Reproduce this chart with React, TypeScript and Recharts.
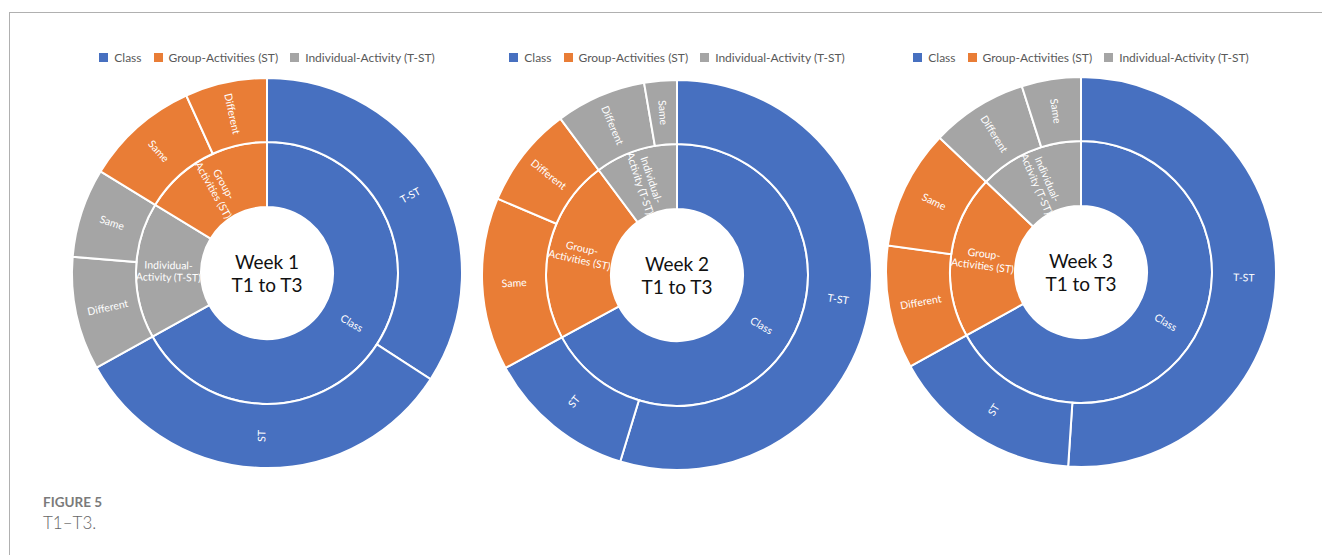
import React from 'react'
import { PieChart, Pie, Cell, Legend, Label } from 'recharts'

// legend categories (inner ring) and their colours
const categories = ['Class', 'Group-Activities (ST)', 'Individual-Activity (T-ST)']
const categoryColors: Record<string, string> = {
  Class: '#4770C0',
  'Group-Activities (ST)': '#E97D36',
  'Individual-Activity (T-ST)': '#A5A5A5',
}

// outer ring values (share of the full circle, %)
const week1Class = [{ name: 'T-ST', value: 34.2 }, { name: 'ST', value: 32.8 }]
const week1Individual = [{ name: 'Different', value: 9.4 }, { name: 'Same', value: 7.4 }]
const week1Group = [{ name: 'Same', value: 9.5 }, { name: 'Different', value: 6.8 }]

const week2Class = [{ name: 'T-ST', value: 54.7 }, { name: 'ST', value: 12.4 }]
const week2Group = [{ name: 'Same', value: 14.3 }, { name: 'Different', value: 8.4 }]
const week2Individual = [{ name: 'Different', value: 7.5 }, { name: 'Same', value: 2.7 }]

const week3Class = [{ name: 'T-ST', value: 51.0 }, { name: 'ST', value: 15.9 }]
const week3Group = [{ name: 'Different', value: 10.2 }, { name: 'Same', value: 9.9 }]
const week3Individual = [{ name: 'Different', value: 8.0 }, { name: 'Same', value: 4.9 }]

type Leaf = { name: string; value: number }
type Group = { name: string; children: Leaf[] }

const FONT = 'Lato, "Open Sans", sans-serif'
const RAD = Math.PI / 180

function renderSegmentLabel(split: boolean) {
  return (props: any) => {
    const { cx, cy, midAngle, innerRadius, outerRadius } = props
    const name: string = props.name ?? props.payload?.name ?? ''
    const r = (innerRadius + outerRadius) / 2
    const x = cx + r * Math.cos(-midAngle * RAD)
    const y = cy + r * Math.sin(-midAngle * RAD)
    let rot = -midAngle
    while (rot > 90) rot -= 180
    while (rot <= -90) rot += 180
    const lines = split && name.length > 12 ? name.replace(/^(\w+-)/, '$1\n').split('\n') : [name]
    const lh = 12
    return (
      <text
        x={x}
        y={y}
        fill="#fff"
        fontSize={10.5}
        fontFamily={FONT}
        textAnchor="middle"
        dominantBaseline="central"
        transform={`rotate(${rot} ${x} ${y})`}
      >
        {lines.map((l, i) => (
          <tspan key={i} x={x} y={y + (i - (lines.length - 1) / 2) * lh}>
            {l}
          </tspan>
        ))}
      </text>
    )
  }
}

const renderLegend = () => (
  <div
    style={{
      display: 'flex',
      justifyContent: 'center',
      gap: 12,
      fontFamily: FONT,
      fontSize: 12,
      color: '#595959',
      whiteSpace: 'nowrap',
    }}
  >
    {categories.map((c) => (
      <span key={c} style={{ display: 'flex', alignItems: 'center' }}>
        <span style={{ width: 9, height: 9, background: categoryColors[c], marginRight: 6, display: 'inline-block' }} />
        {c}
      </span>
    ))}
  </div>
)

function Sunburst({ title, groups, cx, cy }: { title: string; groups: Group[]; cx: number; cy: number }) {
  const W = 410
  const H = 470
  const top = 20
  const inner = groups.map((g) => ({ name: g.name, value: g.children.reduce((s, c) => s + c.value, 0) }))
  const outer = groups.flatMap((g) => g.children.map((c) => ({ ...c, parent: g.name })))
  return (
    <div style={{ position: 'absolute', left: cx - W / 2, top }}>
      <PieChart width={W} height={H} margin={{ top: 0, right: 0, bottom: 0, left: 0 }}>
        <Legend
          verticalAlign="middle"
          align="center"
          content={renderLegend}
          wrapperStyle={{ top: 30, left: 0, width: W }}
        />
        <Pie
          data={inner}
          dataKey="value"
          nameKey="name"
          cx={W / 2}
          cy={cy - top}
          startAngle={90}
          endAngle={-270}
          innerRadius={66}
          outerRadius={131}
          stroke="#fff"
          strokeWidth={2}
          labelLine={false}
          label={renderSegmentLabel(true)}
          isAnimationActive={false}
          legendType="none"
        >
          {inner.map((d) => (
            <Cell key={d.name} fill={categoryColors[d.name]} />
          ))}
          <Label
            position="center"
            content={(p: any) => {
              const vb = p.viewBox || {}
              const x = vb.cx ?? W / 2
              const y = vb.cy ?? cy - top
              return (
                <text x={x} y={y} textAnchor="middle" fontFamily={FONT} fontSize={19} fill="#111">
                  <tspan x={x} y={y - 4}>{title}</tspan>
                  <tspan x={x} y={y + 19}>T1 to T3</tspan>
                </text>
              )
            }}
          />
        </Pie>
        <Pie
          data={outer}
          dataKey="value"
          nameKey="name"
          cx={W / 2}
          cy={cy - top}
          startAngle={90}
          endAngle={-270}
          innerRadius={131}
          outerRadius={195}
          stroke="#fff"
          strokeWidth={2}
          labelLine={false}
          label={renderSegmentLabel(false)}
          isAnimationActive={false}
          legendType="none"
        >
          {outer.map((d, i) => (
            <Cell key={i} fill={categoryColors[d.parent]} />
          ))}
        </Pie>
      </PieChart>
    </div>
  )
}

export default function App() {
  return (
    <div style={{ position: 'absolute', left: 0, top: 0, width: 1322, height: 555, background: '#fff', overflow: 'hidden' }}>
      <div
        style={{
          position: 'absolute',
          left: 9,
          top: 12,
          width: 1313,
          height: 543,
          borderLeft: '1px solid #b0b0b0',
          borderTop: '1px solid #b0b0b0',
        }}
      />
      <Sunburst
        title="Week 1"
        cx={267}
        cy={273}
        groups={[
          { name: 'Class', children: week1Class },
          { name: 'Individual-Activity (T-ST)', children: week1Individual },
          { name: 'Group-Activities (ST)', children: week1Group },
        ]}
      />
      <Sunburst
        title="Week 2"
        cx={677}
        cy={275}
        groups={[
          { name: 'Class', children: week2Class },
          { name: 'Group-Activities (ST)', children: week2Group },
          { name: 'Individual-Activity (T-ST)', children: week2Individual },
        ]}
      />
      <Sunburst
        title="Week 3"
        cx={1081}
        cy={272}
        groups={[
          { name: 'Class', children: week3Class },
          { name: 'Group-Activities (ST)', children: week3Group },
          { name: 'Individual-Activity (T-ST)', children: week3Individual },
        ]}
      />
      <div style={{ position: 'absolute', left: 43, top: 494, fontFamily: FONT, fontWeight: 700, fontSize: 13.5, color: '#7a7a7a' }}>
        FIGURE 5
      </div>
      <div style={{ position: 'absolute', left: 43, top: 512, fontFamily: FONT, fontWeight: 300, fontSize: 17, color: '#666' }}>
        T1–T3.
      </div>
    </div>
  )
}
